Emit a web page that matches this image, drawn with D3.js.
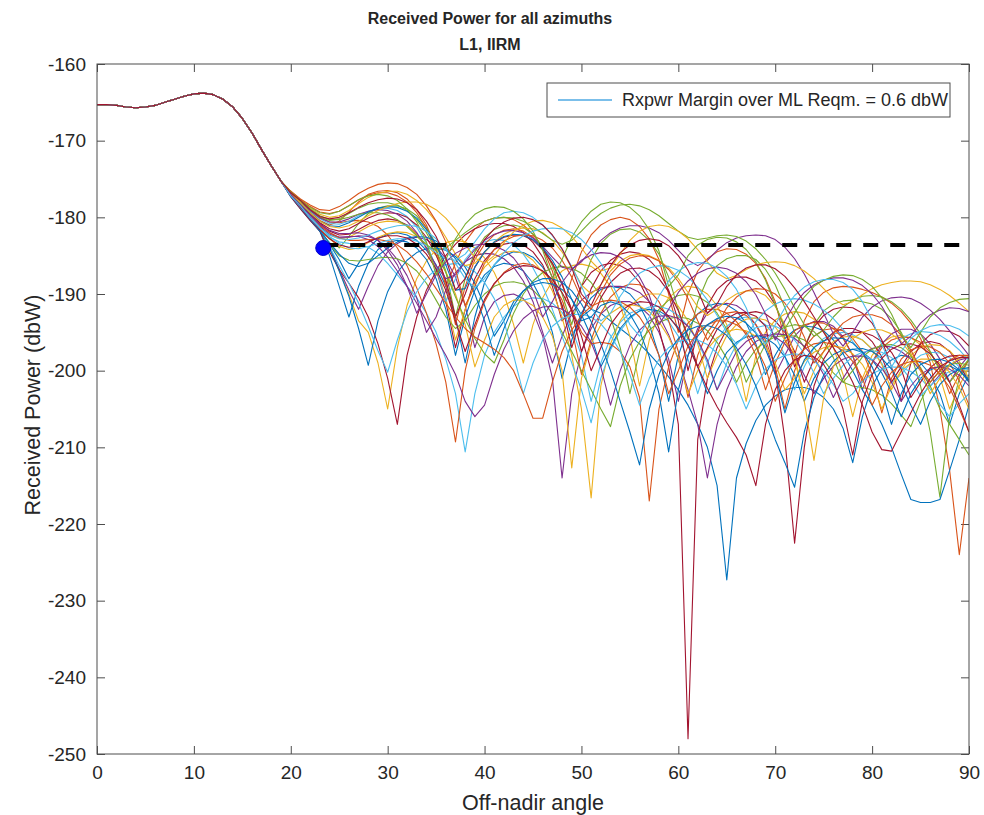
<!DOCTYPE html>
<meta charset="utf-8">
<script src="https://d3js.org/d3.v7.min.js"></script>
<style>
body { margin: 0; background: #fff; }
text { font-family: "Liberation Sans", Arial, Helvetica, sans-serif; fill: #262626; }
</style>
<div id="chart"></div>
<script>
// off-nadir angle grid, one sample per degree
const angles = d3.range(0, 91);
const xTicks = [0, 10, 20, 30, 40, 50, 60, 70, 80, 90];
const yTicks = [-250, -240, -230, -220, -210, -200, -190, -180, -170, -160];

// 0..19 deg : main beam, identical for every azimuth cut
const mainBeam = [-165.3,-165.3,-165.4,-165.6,-165.7,-165.6,-165.4,-165.0,-164.6,-164.2,
  -163.9,-163.8,-164.0,-164.6,-165.6,-167.1,-169.0,-171.2,-173.3,-175.3];

// 20..90 deg for each azimuth cut (dBW)
const az00 = [-177.3,-178.8,-180.2,-181.8,-183.5,-185.5,-188,-186,-184,-182.8,
  -182.2,-182,-182.3,-183,-184.3,-186.2,-189,-193,-199,-193,
  -188.5,-186.2,-185,-184.5,-184.6,-185.2,-186.5,-188.5,-191.5,-195.5,
  -193,-192,-192.5,-193.5,-194.5,-195.5,-196.5,-197.8,-199.2,-200.8,
  -202.5,-204.5,-207,-210,-215,-227.3,-214,-209.5,-206.5,-204.5,
  -203.3,-202.5,-202.2,-202.2,-202.6,-203.5,-205,-207.5,-212,-206,
  -202,-199.8,-198.6,-198,-198.2,-199,-200.5,-203,-207,-203,
  -200.5];
const az01 = [-176.8,-178.1,-179.3,-180.4,-181,-180.5,-179.3,-178,-177,-176.6,
  -176.5,-176.8,-177.6,-179,-181,-184,-189,-186,-183.2,-181.5,
  -180.5,-180.1,-180,-180.3,-181,-182.2,-184,-187,-192,-188,
  -184.5,-182.3,-181,-180.3,-180,-180.3,-181.2,-182.8,-185.5,-190,
  -195,-190,-187,-185.4,-184.5,-184.1,-184.2,-184.8,-186,-188,
  -191,-196,-198,-193.5,-191,-189.8,-189.2,-189,-189.1,-189.4,
  -189.8,-190.4,-191.2,-192.3,-193.8,-195.8,-199,-205,-213,-224,
  -214];
const az02 = [-177.2,-178.8,-180.2,-181.6,-184,-187,-190,-193.5,-195,-199,
  -205,-197,-191.5,-188,-185.7,-184.2,-183.3,-183,-183.2,-184,
  -185.3,-187.2,-190,-194,-199,-194,-190.5,-188.3,-187,-186.3,
  -186.1,-186.4,-187.3,-189,-191.5,-195.5,-202,-196,-192.5,-190.5,
  -189.4,-189,-189.2,-190,-191.5,-194,-198,-204,-198,-195,
  -193.4,-192.6,-192.3,-192.5,-193.3,-194.8,-197,-200.5,-206,-201,
  -198,-196.4,-195.6,-195.4,-195.7,-196.6,-198.2,-200.8,-205,-202,
  -199.5];
const az03 = [-177,-178.6,-180.1,-181.5,-183.8,-186.8,-189.5,-192,-189,-186.3,
  -184.5,-183.4,-182.8,-182.6,-182.9,-183.8,-185.4,-187.8,-191.5,-197,
  -193,-191,-190.2,-190,-190.6,-192.3,-195.5,-201,-214,-203,
  -197.5,-194.5,-192.6,-191.5,-191,-191,-191.6,-192.8,-195,-198.5,
  -204,-198,-194.5,-192.5,-191.5,-191.2,-191.5,-192.4,-194,-196.5,
  -200.5,-198,-195.5,-194.2,-193.6,-193.6,-194.2,-195.6,-198,-202.5,
  -199,-196.5,-195.2,-194.6,-194.6,-195.2,-196.5,-198.5,-201.5,-199.5,
  -198];
const az04 = [-176.9,-178.2,-179.6,-181,-182.6,-184,-182.5,-180.8,-179.5,-178.8,
  -178.5,-178.5,-178.9,-179.8,-181.3,-183.5,-187,-193,-188,-184.5,
  -182.6,-181.6,-181.1,-181,-181.3,-182.2,-183.8,-186.3,-190,-194,
  -189,-185.5,-183.4,-182.2,-181.6,-181.5,-181.9,-183,-184.8,-187.8,
  -192,-196,-191,-188,-186.3,-185.4,-185,-185,-185.5,-186.8,
  -188.8,-191.8,-195,-197,-194,-192.2,-191.3,-190.9,-190.8,-191,
  -191.3,-192,-193.2,-195,-197.8,-202,-208,-216.5,-206,-201,
  -198.5];
const az05 = [-177.2,-178.7,-180.2,-181.6,-182.6,-183.2,-183.4,-183.5,-183.9,-184.7,
  -186,-187.5,-189,-190.5,-192.5,-195,-198.5,-203,-210.6,-203,
  -198,-195,-193,-191.6,-190.8,-190.5,-190.6,-191.2,-192.4,-194.5,
  -198,-204,-199,-195.7,-193.7,-192.5,-192,-192,-192.5,-193.6,
  -195.5,-198.5,-203,-199,-196,-194.2,-193.3,-193,-193.2,-194,
  -195.5,-198,-202.5,-199.5,-197,-195.8,-195.2,-195,-195.3,-196,
  -197.2,-199,-201.6,-200.5,-199,-198,-197.6,-197.7,-198.3,-199.5,
  -201];
const az06 = [-176.9,-178.2,-179.5,-180.8,-181.8,-182.3,-182.2,-181.6,-180.9,-180.4,
  -180.2,-180.4,-181,-182.2,-184,-186.8,-191,-197,-192,-188,
  -185.6,-184.2,-183.5,-183.3,-183.6,-184.5,-186.2,-189,-193.5,-192,
  -189,-187.2,-186.3,-186,-186.3,-187,-188.5,-191,-194.5,-199.5,
  -207,-248,-209,-201,-197,-194.6,-193.2,-192.5,-192.3,-192.6,
  -193.5,-195,-197.5,-201.5,-198.5,-196.2,-195,-194.5,-194.5,-195,
  -196.2,-198.2,-201.5,-199.5,-197.5,-196.5,-196.2,-196.5,-197.5,-199.2,
  -201.5];
const az07 = [-177.3,-178.9,-180.4,-181.8,-185,-189,-193,-189,-186,-184.2,
  -183.3,-183,-183.2,-184,-185.5,-188,-192,-198,-193,-189.5,
  -187.5,-186.4,-186,-186.2,-187,-188.6,-191,-195,-201,-196,
  -192.5,-190.5,-189.4,-189,-189.2,-190,-191.5,-194,-198,-204,
  -198,-194.5,-192.6,-191.6,-191.2,-191.4,-192.2,-193.8,-196.5,-200.5,
  -198,-195.8,-194.7,-194.2,-194.3,-194.8,-196,-197.8,-200,-202.5,
  -204.5,-207,-210,-213.5,-216.8,-217.2,-217.2,-216.8,-213,-209,
  -204.5];
const az08 = [-176.7,-177.9,-179,-180,-180.6,-180.7,-180.5,-180.4,-180.6,-181.2,
  -182.3,-184,-186.3,-189.2,-192.5,-196.5,-201.5,-209.3,-200,-194.5,
  -191,-188.7,-187.2,-186.3,-186,-186.2,-187,-188.5,-190.8,-194.5,
  -200.5,-196,-192.5,-190.4,-189.2,-188.7,-188.8,-189.5,-191,-193.5,
  -197.5,-203.5,-198,-195,-193.3,-192.5,-192.3,-192.8,-194,-196,
  -199.5,-205,-200,-197,-195.5,-194.7,-194.5,-194.8,-195.8,-197.5,
  -200.5,-205.5,-201,-198.5,-197.3,-196.8,-196.9,-197.6,-199,-201.3,
  -204.5];
const az09 = [-177.1,-178.5,-179.9,-181.3,-182.3,-182.8,-182.6,-181.9,-181.2,-180.7,
  -180.5,-180.6,-181.1,-182.2,-184,-186.6,-190.5,-196,-192,-188.5,
  -186.5,-185.3,-184.6,-184.4,-184.7,-185.6,-187.2,-189.6,-193,-198,
  -205,-216.6,-202,-196.5,-193.5,-191.6,-190.5,-190,-190,-190.5,
  -191.6,-193.5,-196.5,-201,-198,-195.4,-194,-193.3,-193.1,-193.4,
  -194.3,-196,-198.8,-203,-200,-197.5,-196.2,-195.6,-195.5,-196,
  -197.2,-199.2,-202.5,-200,-198,-197,-196.6,-196.7,-197.4,-198.8,
  -201];
const az10 = [-177,-178.4,-179.7,-181,-182,-182.6,-182.6,-182.4,-182.5,-183,
  -184,-185.5,-187.6,-190.5,-195,-193,-189.5,-187.2,-185.8,-185,
  -184.7,-184.8,-185.4,-186.5,-188.3,-191,-195,-199,-195.5,-192.5,
  -190.8,-189.8,-189.2,-189,-189,-189.2,-189.8,-191,-192.8,-195.3,
  -198.5,-202.5,-207,-214,-207,-202.5,-199.5,-197.5,-196.2,-195.5,
  -195.2,-195.3,-195.8,-196.8,-198.3,-200.5,-203.5,-201,-199,-197.8,
  -197.1,-196.8,-196.9,-197.5,-198.5,-200,-202,-200.5,-199.3,-198.6,
  -198.3];
const az11 = [-177.1,-178.7,-180.1,-181.5,-183.5,-185,-185.6,-185.7,-185.5,-185.3,
  -185.2,-185.4,-186,-187,-188.6,-190.8,-193,-194.5,-193.5,-191.5,
  -190,-189,-188.5,-188.4,-188.7,-189.5,-190.8,-192.6,-195,-197.5,
  -200,-202.5,-205,-207.3,-202,-198.5,-196.2,-194.7,-193.7,-193.2,
  -193,-193.2,-193.8,-194.8,-196.3,-198.4,-201.5,-199,-197.2,-196.2,
  -195.6,-195.4,-195.5,-196,-197,-198.6,-200.3,-201.5,-202,-202.2,
  -202.5,-203.2,-204.3,-205.8,-207.3,-204,-201.5,-200,-199.2,-199,
  -199.3];
const az12 = [-176.8,-178.1,-179.2,-180.2,-180.8,-180.9,-180.5,-179.8,-179.2,-178.9,
  -178.8,-179.1,-179.9,-181.3,-183.4,-186.5,-191,-188,-185.5,-184,
  -183.2,-182.9,-183,-183.6,-184.8,-186.6,-189,-192,-195.5,-199,
  -202.5,-206.8,-201,-197.3,-194.8,-193.2,-192.2,-191.7,-191.6,-192,
  -192.8,-194.2,-196.2,-199,-202.5,-199,-196.6,-195.2,-194.4,-194.1,
  -194.2,-194.8,-196,-197.8,-200.3,-203,-201,-199.3,-198.2,-197.6,
  -197.4,-197.6,-198.3,-199.5,-201.2,-203.3,-202,-200.8,-200.1,-199.8,
  -199.8];
const az13 = [-177.3,-178.9,-180.4,-181.8,-184.5,-186.8,-188.6,-190.5,-193,-196.5,
  -201,-207,-198,-193,-189.5,-187,-185,-183.5,-182.3,-181.5,
  -181,-180.8,-180.8,-181.2,-182,-183.3,-185.2,-187.8,-191.5,-197,
  -193,-189.3,-187,-185.6,-184.8,-184.5,-184.7,-185.5,-187,-189.5,
  -193.5,-200,-195,-191.5,-189.4,-188.3,-187.8,-187.8,-188.3,-189.5,
  -191.4,-194.5,-199.5,-197,-194.3,-192.8,-192,-191.7,-191.8,-192.5,
  -193.8,-196,-199.5,-204,-199,-196.5,-195.3,-194.8,-194.9,-195.5,
  -196.8];
const az14 = [-177.2,-178.7,-180.2,-181.6,-184,-187,-190.3,-194.5,-199.3,-193.5,
  -189.7,-187.2,-185.6,-184.6,-184.1,-184,-184.3,-185.1,-186.5,-188.6,
  -191.5,-195.5,-193.5,-191,-189.6,-188.8,-188.5,-188.7,-189.4,-190.7,
  -192.7,-195.5,-199.5,-197,-194.5,-193,-192.2,-192,-192.2,-193,
  -194.4,-196.5,-199.5,-203,-200,-197.6,-196.3,-195.6,-195.4,-195.7,
  -196.6,-198.2,-200.6,-204,-201,-199,-197.9,-197.3,-197.2,-197.6,
  -198.6,-200.3,-202.8,-206,-203,-201,-199.9,-199.4,-199.4,-200,
  -201.2];
const az15 = [-176.6,-177.7,-178.6,-179.3,-179.5,-179.2,-178.5,-177.7,-177.1,-176.8,
  -176.8,-177.2,-178,-179.4,-181.4,-184.3,-188.5,-194,-189,-185.5,
  -183.5,-182.3,-181.7,-181.5,-181.8,-182.6,-184,-186,-188.8,-192,
  -195,-196.5,-196.3,-196.5,-197.5,-199.5,-203.5,-217,-205,-199.5,
  -196,-193.8,-192.6,-192,-192,-192.5,-193.6,-195.3,-198,-202.5,
  -199,-196.3,-194.8,-194,-193.7,-193.8,-194.5,-195.8,-198,-201.5,
  -199,-197,-196,-195.6,-195.7,-196.3,-197.6,-199.7,-203,-200.5,
  -198.5];
const az16 = [-177,-178.5,-180,-181.5,-182.8,-183.8,-184.2,-184,-183.3,-182.6,
  -182.1,-181.9,-182,-182.5,-183.5,-185,-187.1,-190,-194,-199.5,
  -196,-193,-191.5,-190.8,-190.8,-191.5,-193,-195.5,-200,-212.7,
  -201,-196.5,-194,-192.5,-191.7,-191.4,-191.6,-192.3,-193.6,-195.6,
  -198.5,-203,-200,-197.2,-195.7,-194.9,-194.6,-194.8,-195.5,-196.9,
  -199,-202.5,-201,-198.8,-197.6,-197,-196.8,-197,-197.8,-199.2,
  -201.5,-205,-202,-200,-199,-198.5,-198.5,-199,-200.2,-202.2,
  -205];
const az17 = [-177,-178.4,-179.9,-181.2,-182.2,-182.6,-182.5,-182.5,-182.9,-183.8,
  -185.2,-187,-189,-191.2,-193.5,-195.8,-198,-200.5,-204,-206,
  -204.5,-200.5,-197.2,-194.8,-193.2,-192.2,-191.7,-191.6,-192,-192.8,
  -194.2,-196.3,-199.5,-204.5,-200,-196.7,-194.7,-193.5,-192.9,-192.8,
  -193.2,-194.2,-196,-198.6,-202.5,-200,-197.5,-196.2,-195.5,-195.3,
  -195.6,-196.5,-198.2,-200.6,-203,-201,-199.4,-198.5,-198.1,-198.1,
  -198.6,-199.7,-201.5,-204,-202,-200.5,-199.7,-199.5,-199.8,-200.6,
  -202];
const az18 = [-176.8,-178,-179.1,-180,-180.4,-180.2,-179.5,-178.8,-178.3,-178.1,
  -178.1,-178.4,-179.1,-180.3,-182,-184.3,-187.2,-190.4,-193.3,-195.8,
  -197.8,-199,-196,-192.5,-190,-188.3,-187.2,-186.6,-186.4,-186.6,
  -187.3,-188.5,-190.3,-193,-197,-203,-197.5,-194,-192,-190.8,
  -190.2,-190,-190.3,-191.1,-192.5,-194.6,-197.5,-201.5,-199,-196.5,
  -195.1,-194.3,-194,-194.2,-194.9,-196.2,-198.3,-201.5,-200,-198.2,
  -197.2,-196.7,-196.6,-197,-198,-199.6,-202,-205,-207,-209,
  -211];
const az19 = [-177.1,-178.7,-180.1,-181.5,-183.8,-186.3,-188.6,-191.2,-194.2,-197.4,
  -200.2,-196,-192.3,-189.7,-187.9,-186.8,-186.2,-186,-186.3,-187.1,
  -188.5,-190.6,-193.6,-198,-203,-199,-196,-194.2,-193.2,-192.7,
  -192.6,-193,-193.9,-195.4,-197.5,-200.5,-204.5,-201,-198.5,-197,
  -196.2,-195.9,-196,-196.6,-197.7,-199.4,-201.8,-205,-202,-199.8,
  -198.6,-198,-197.8,-198,-198.7,-200,-201.8,-204,-203,-201.4,
  -200.4,-199.8,-199.5,-199.6,-200.1,-201,-202.4,-204.4,-206,-204.3,
  -203];
const az20 = [-176.9,-178.2,-179.5,-180.7,-181.5,-181.8,-181.5,-180.8,-180.1,-179.6,
  -179.4,-179.5,-180,-181,-182.6,-184.9,-188.2,-193,-190,-186.5,
  -184.5,-183.3,-182.6,-182.3,-182.4,-183,-184.2,-186,-188.6,-192.2,
  -197.5,-194,-190.5,-188.5,-187.3,-186.7,-186.6,-187,-188,-189.7,
  -192.2,-195.5,-199.5,-197,-194.6,-193.2,-192.5,-192.4,-192.9,-194.2,
  -200,-209,-222.5,-210,-202,-198.5,-196.5,-195.4,-195,-195,
  -195.4,-196.2,-197.6,-199.8,-203.5,-201.5,-199.6,-198.6,-198.1,-198,
  -198.4];
const az21 = [-177.1,-178.6,-180.2,-181.8,-183.3,-184.8,-186,-186.4,-186,-185,
  -184,-183.2,-182.7,-182.5,-182.6,-183.1,-184,-185.4,-187.3,-190,
  -193.5,-198,-194.5,-191.5,-189.6,-188.5,-188,-188,-188.5,-189.6,
  -191.3,-193.6,-196.5,-200,-204,-208,-212.3,-205,-200.5,-197.6,
  -195.8,-194.7,-194.2,-194.1,-194.5,-195.4,-197,-199.2,-202,-205.5,
  -209,-212,-215.2,-208,-203.5,-200.6,-198.8,-197.7,-197.2,-197.1,
  -197.5,-198.4,-199.8,-201.8,-204.5,-207,-204,-201.8,-200.5,-199.8,
  -199.6];
const az22 = [-177,-178.4,-179.7,-181,-182,-182.7,-183,-183,-182.9,-182.9,
  -183.1,-183.6,-184.5,-185.8,-187.4,-189.3,-191.2,-193,-194.5,-195.6,
  -196.4,-197.2,-198.3,-200,-203,-206.2,-206.2,-201.5,-197.5,-194.7,
  -192.8,-191.6,-191,-190.8,-191,-191.7,-193,-195,-198,-203,
  -200,-196.8,-195,-194,-193.5,-193.5,-194,-195,-196.8,-199.5,
  -204,-201,-198.5,-197.2,-196.5,-196.3,-196.6,-197.4,-198.8,-201,
  -204.5,-202,-200.2,-199.2,-198.8,-198.8,-199.3,-200.4,-202.2,-205,
  -208];
const az23 = [-176.7,-177.8,-178.8,-179.6,-180,-179.8,-179.1,-178.2,-177.4,-176.9,
  -176.6,-176.6,-177,-177.8,-179,-180.6,-182.6,-184.8,-186.3,-186,
  -184.6,-183.2,-182.2,-181.6,-181.4,-181.5,-182,-183,-184.5,-186.5,
  -188.8,-190,-188.8,-187,-185.7,-185,-184.8,-185,-185.6,-186.6,
  -188,-189.8,-191.7,-192.8,-192,-190.8,-190,-189.6,-189.6,-190.2,
  -191.6,-194,-198,-204,-211.7,-203.5,-199.5,-197.2,-195.8,-195,
  -194.6,-194.7,-195.2,-196.2,-197.8,-200,-203,-201,-199.3,-198.4,
  -198];
const az24 = [-176.8,-178,-179.1,-180.1,-180.6,-180.6,-180.2,-179.6,-179.2,-179,
  -179.1,-179.6,-180.5,-182,-184,-186.3,-188,-187.5,-185.8,-184.2,
  -183,-182.2,-181.8,-181.7,-182,-182.7,-183.8,-185.2,-186.5,-186.8,
  -185.8,-184.3,-183,-182,-181.4,-181.1,-181.1,-181.4,-182,-183,
  -184.3,-185.6,-186.3,-185.6,-184.3,-183.3,-182.7,-182.4,-182.3,-182.4,
  -182.9,-183.9,-185.4,-187.4,-189.8,-192.5,-195.2,-196.8,-195,-193,
  -191.7,-190.9,-190.5,-190.4,-190.6,-191.2,-192.1,-193.3,-194.8,-196.4,
  -198];
const az25 = [-176.7,-177.9,-178.9,-179.8,-180.3,-180.3,-180,-179.6,-179.4,-179.4,
  -179.7,-180.3,-181.2,-182.4,-183.6,-184.3,-184,-183,-182,-181.1,
  -180.5,-180.1,-180,-180.1,-180.5,-181.2,-182.1,-183,-183.5,-183,
  -181.8,-180.5,-179.5,-178.8,-178.4,-178.3,-178.5,-179,-179.8,-180.8,
  -181.8,-182.6,-182.9,-182.7,-182.4,-182.3,-182.5,-183.1,-184.1,-185.5,
  -187.3,-189.4,-191.8,-194,-195.5,-194.7,-193,-191.7,-190.8,-190.3,
  -190.2,-190.4,-191,-192,-193.4,-195.2,-197.5,-200,-201.5,-200,
  -198.5];
const az26 = [-177.1,-178.5,-179.9,-181.3,-182.5,-183.4,-184,-184.1,-183.8,-183.4,
  -183,-182.8,-182.8,-183.1,-183.7,-184.6,-185.4,-185.6,-184.8,-183.2,
  -181.5,-180.2,-179.4,-179.2,-179.4,-180,-181,-182.4,-184.2,-186.4,
  -189,-191.8,-193.5,-192.5,-190.3,-188.5,-187.3,-186.6,-186.3,-186.4,
  -186.9,-187.8,-189.1,-190.8,-192.8,-195,-196.5,-195.5,-193.6,-192.2,
  -191.3,-190.8,-190.6,-190.8,-191.3,-192.1,-193.2,-194.6,-196.2,-197.8,
  -198.6,-198,-196.8,-195.8,-195.2,-194.9,-195,-195.4,-196.2,-197.3,
  -198.7];
const az27 = [-177.1,-178.6,-180.1,-181.6,-182.8,-183.6,-183.9,-183.7,-183.2,-182.7,
  -182.4,-182.4,-182.7,-183.5,-184.8,-186.7,-189.5,-193.5,-197.5,-194,
  -190.7,-188.6,-187.3,-186.6,-186.3,-186.4,-187,-188.1,-189.8,-192.2,
  -195.5,-200,-197,-194,-192.3,-191.4,-191,-191.1,-191.7,-192.9,
  -194.6,-196.8,-199.5,-202.3,-204.7,-206.8,-208.7,-211,-215,-207,
  -202.5,-200,-198.6,-198,-198.2,-199.2,-201.3,-205,-211,-204,
  -200.5,-198.4,-197.2,-196.6,-196.5,-196.9,-197.8,-199.3,-201.5,-204.5,
  -208];
const az28 = [-176.9,-178.2,-179.4,-180.5,-181.1,-181.2,-180.7,-180,-179.3,-178.8,
  -178.6,-178.7,-179.2,-180.1,-181.6,-183.6,-186.2,-189.5,-189.3,-186.5,
  -184.5,-183.2,-182.5,-182.2,-182.3,-182.9,-184,-185.6,-187.8,-190.7,
  -193.5,-193,-191.5,-191,-191.4,-192.6,-194.8,-198.2,-203,-210.6,
  -202.5,-198,-195.5,-194,-193.2,-192.9,-193.1,-193.8,-195.1,-197.2,
  -200.4,-205.5,-201.5,-198.6,-197,-196.1,-195.7,-195.8,-196.4,-197.6,
  -199.5,-202.5,-207,-203,-200.5,-199.2,-198.6,-198.5,-198.9,-199.9,
  -201.5];
const az29 = [-176.6,-177.6,-178.4,-179,-179.1,-178.6,-177.8,-176.9,-176.2,-175.7,
  -175.5,-175.6,-176.1,-177,-178.5,-180.5,-183.2,-186.8,-191.5,-189,
  -186,-184.2,-183.1,-182.5,-182.3,-182.4,-183,-184,-185.6,-187.8,
  -190.6,-192,-189.8,-187.5,-186.1,-185.3,-185,-185.1,-185.7,-186.8,
  -188.4,-190.6,-193.5,-196,-194,-191.8,-190.4,-189.6,-189.3,-189.4,
  -190,-191.2,-193,-195.6,-199,-197.5,-195.2,-193.8,-193,-192.7,
  -192.7,-193.1,-194,-195.4,-197.3,-199.8,-201.5,-200,-198.6,-198,
  -198];
const az30 = [-176.9,-178.1,-179.4,-180.5,-181.2,-181.4,-181.1,-180.5,-179.8,-179.1,
  -178.6,-178.2,-178,-178,-178.3,-179,-180.1,-181.6,-183.5,-185.3,
  -186,-185,-183.3,-181.9,-181,-180.5,-180.4,-180.7,-181.4,-182.5,
  -184,-185.7,-187,-186.6,-184.8,-183,-181.8,-181.2,-181,-181.2,
  -181.8,-182.8,-184.2,-185.8,-187.3,-188,-187.6,-186.8,-186.2,-185.9,
  -185.8,-185.9,-186.3,-187,-188,-189.3,-190.6,-191.4,-191,-190.1,
  -189.3,-188.8,-188.5,-188.3,-188.3,-188.4,-188.8,-189.4,-190.2,-191.2,
  -192.3];
const az31 = [-177,-178.4,-179.7,-180.9,-181.7,-182.1,-182.1,-182,-182.3,-183,
  -184.3,-186.2,-189,-192.5,-190,-187.5,-185.8,-184.7,-184,-183.6,
  -183.5,-183.7,-184.3,-185.3,-187,-189.5,-193,-191,-188.5,-186.8,
  -185.6,-184.9,-184.6,-184.7,-185.2,-186.2,-187.8,-190.2,-194,-192,
  -189.8,-188.3,-187.3,-186.7,-186.5,-186.7,-187.3,-188.4,-190.1,-192.6,
  -196,-193.5,-191.3,-189.8,-188.8,-188.2,-187.9,-187.9,-188.2,-188.9,
  -190,-191.6,-193.8,-196.5,-195.5,-193.8,-192.7,-192.1,-191.8,-191.9,
  -192.3];
const az32 = [-176.7,-177.8,-178.7,-179.4,-179.6,-179.2,-178.5,-177.7,-177.2,-177,
  -177.2,-177.8,-178.9,-180.6,-183.2,-187.5,-185.5,-182.8,-180.9,-179.6,
  -178.9,-178.6,-178.7,-179.2,-180.2,-181.8,-184.3,-188,-185.5,-182.6,
  -180.6,-179.2,-178.3,-178,-178.1,-178.7,-179.8,-181.6,-184.4,-189,
  -187.5,-185,-183.6,-182.9,-182.6,-182.7,-183.2,-184.2,-185.8,-188.2,
  -191.4,-194.5,-192.5,-190.4,-189,-188.2,-187.7,-187.5,-187.6,-188.1,
  -189,-190.5,-192.6,-195.3,-197,-195,-193,-191.8,-191.1,-190.7,
  -190.6];
const az33 = [-177.2,-178.5,-180.1,-181.4,-182.3,-182.8,-182.9,-182.7,-182.3,-181.8,
  -181.4,-181.1,-181,-181.2,-181.8,-182.8,-184.2,-186,-188,-189.2,
  -188,-186.2,-184.6,-183.3,-182.4,-181.8,-181.5,-181.4,-181.5,-182,
  -182.9,-184.2,-186,-188.2,-191,-194,-195.5,-193,-190.3,-188.3,
  -187,-186.2,-185.9,-186,-186.6,-187.7,-189.4,-191.8,-195,-196.5,
  -194,-191.8,-190.2,-189.1,-188.4,-188.1,-188.1,-188.5,-189.4,-191,
  -193.4,-196.6,-199.5,-197.5,-195.8,-194.8,-194.2,-194,-194.1,-194.6,
  -195.5];
const az34 = [-176.8,-177.8,-179,-179.9,-180.2,-180,-179.4,-178.7,-178.1,-177.7,
  -177.5,-177.6,-178.1,-179,-180.5,-182.5,-185.3,-189.5,-188,-185,
  -182.9,-181.5,-180.6,-180.1,-180,-180.3,-181,-182.3,-184.1,-186.6,
  -190,-191.5,-188.8,-186.3,-184.6,-183.6,-183,-182.8,-183,-183.7,
  -185,-186.9,-189.5,-192.5,-191.3,-189,-187.5,-186.6,-186.2,-186.2,
  -186.7,-187.7,-189.2,-191,-193,-195,-197,-199,-201.5,-204.5,
  -208,-210.3,-210.5,-208,-205.5,-203,-201,-199.5,-198.7,-198.3,
  -198.3];

const azimuthCuts = [az00, az01, az02, az03, az04, az05, az06, az07, az08, az09,
  az10, az11, az12, az13, az14, az15, az16, az17, az18, az19,
  az20, az21, az22, az23, az24, az25, az26, az27, az28, az29,
  az30, az31, az32, az33, az34];

// matlab default color order
const lineColors = ["#0072BD", "#D95319", "#EDB120", "#7E2F8E", "#77AC30", "#4DBEEE", "#A2142F"];

// requirement line and edge-of-coverage point
const reqLevel = -183.6;
const reqStart = 23.35;
const edgePoint = { angle: 23.35, power: -184.0 };
const legendLabel = "Rxpwr Margin over ML Reqm. = 0.6 dbW";

// set the dimensions and margins of the graph
var margin = {top: 64, right: 15, bottom: 61, left: 97},
    width = 984 - margin.left - margin.right,
    height = 815 - margin.top - margin.bottom;

var svgRoot = d3.select("#chart")
  .append("svg")
    .attr("width", 984)
    .attr("height", 815);

var svg = svgRoot.append("g")
    .attr("transform", "translate(" + margin.left + "," + margin.top + ")");

var x = d3.scaleLinear().domain([0, 90]).range([0, width]);
var y = d3.scaleLinear().domain([-250, -160]).range([height, 0]);

svg.append("clipPath").attr("id", "plotClip")
  .append("rect").attr("width", width).attr("height", height);

// axes, ticks pointing inside like matlab; plain hyphen for negatives
var axisColor = "#4d4d4d";
var plainFmt = function(d) { return String(d); };
svg.append("g")
    .attr("transform", "translate(0," + height + ")")
    .call(d3.axisBottom(x).tickValues(xTicks).tickFormat(plainFmt).tickSizeInner(-8).tickSizeOuter(0).tickPadding(12))
    .call(g => g.selectAll("text").style("font-size", "19px"));
svg.append("g")
    .call(d3.axisTop(x).tickValues(xTicks).tickSizeInner(-8).tickSizeOuter(0).tickFormat(""));
svg.append("g")
    .call(d3.axisLeft(y).tickValues(yTicks).tickFormat(plainFmt).tickSizeInner(-8).tickSizeOuter(0).tickPadding(11))
    .call(g => g.selectAll("text").style("font-size", "19px"));
svg.append("g")
    .attr("transform", "translate(" + width + ",0)")
    .call(d3.axisRight(y).tickValues(yTicks).tickSizeInner(-8).tickSizeOuter(0).tickFormat(""));
svg.selectAll(".domain").remove();
svg.selectAll(".tick line").attr("stroke", axisColor);
svg.selectAll(".tick text").attr("fill", "#262626");

// the lines
var line = d3.line()
  .x(function(d) { return x(d[0]); })
  .y(function(d) { return y(d[1]); });

var plot = svg.append("g").attr("clip-path", "url(#plotClip)");

azimuthCuts.forEach(function(cut, i) {
  var values = mainBeam.concat(cut);
  if (values.length !== angles.length) console.warn("cut " + i + " has " + values.length + " values");
  var pts = angles.map(function(a, k) { return [a, values[k]]; });
  plot.append("path")
    .datum(pts)
    .attr("fill", "none")
    .attr("stroke", lineColors[i % lineColors.length])
    .attr("stroke-width", 1.1)
    .attr("stroke-linejoin", "round")
    .attr("d", line);
});

// requirement dashed line
plot.append("line")
  .attr("x1", x(reqStart)).attr("x2", x(90))
  .attr("y1", y(reqLevel)).attr("y2", y(reqLevel))
  .attr("stroke", "black")
  .attr("stroke-width", 4)
  .attr("stroke-dasharray", "15,12");

svg.append("circle")
  .attr("cx", x(edgePoint.angle))
  .attr("cy", y(edgePoint.power))
  .attr("r", 7.5)
  .attr("fill", "#0000ff")
  .attr("stroke", "#0000cc")
  .attr("stroke-width", 1);

// plot box
svg.append("rect")
  .attr("width", width).attr("height", height)
  .attr("fill", "none")
  .attr("stroke", axisColor)
  .attr("stroke-width", 1);

// legend
var legend = svgRoot.append("g").attr("transform", "translate(547,83)");
legend.append("rect")
  .attr("width", 403).attr("height", 34)
  .attr("fill", "white")
  .attr("stroke", axisColor);
legend.append("line")
  .attr("x1", 11).attr("x2", 65).attr("y1", 17).attr("y2", 17)
  .attr("stroke", "#4FAAE3").attr("stroke-width", 1.5);
legend.append("text")
  .attr("x", 75).attr("y", 23)
  .style("font-size", "18px")
  .text(legendLabel);

// titles
svgRoot.append("text")
  .attr("x", 490).attr("y", 24)
  .attr("text-anchor", "middle")
  .style("font-size", "16px").style("font-weight", "bold")
  .text("Received Power for all azimuths");
svgRoot.append("text")
  .attr("x", 490).attr("y", 50)
  .attr("text-anchor", "middle")
  .style("font-size", "16px").style("font-weight", "bold")
  .text("L1, IIRM");

svgRoot.append("text")
  .attr("x", margin.left + width / 2).attr("y", 810)
  .attr("text-anchor", "middle")
  .style("font-size", "21.5px")
  .text("Off-nadir angle");

svgRoot.append("text")
  .attr("transform", "translate(40,405) rotate(-90)")
  .attr("text-anchor", "middle")
  .style("font-size", "21.5px")
  .text("Received Power (dbW)");
</script>
